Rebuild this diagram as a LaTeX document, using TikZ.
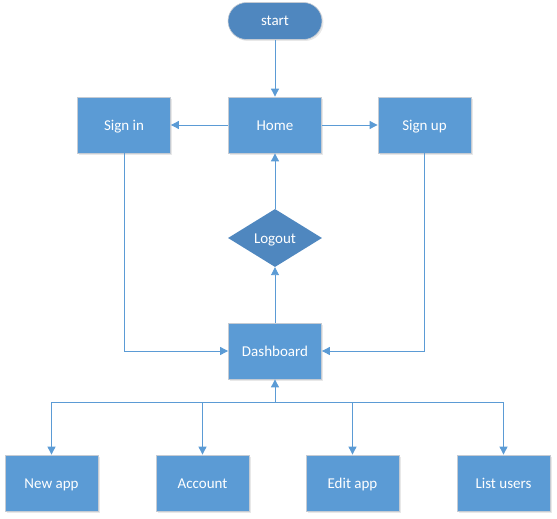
\documentclass[tikz,border=0pt]{standalone}
\usepackage{fontspec}
\setmainfont{Carlito}
\usetikzlibrary{arrows.meta,shapes.geometric,shadows}
\definecolor{boxblue}{HTML}{5B9BD5}
\definecolor{darkblue}{HTML}{4F87BF}
\definecolor{edgegray}{HTML}{C5CBD3}
\begin{document}
\begin{tikzpicture}[x=1pt,y=-1pt,
  every node/.style={font=\fontsize{15}{17}\selectfont, text=white, text height=13pt, text depth=3pt},
  proc/.style={rectangle, fill=boxblue, draw=edgegray, line width=0.8pt,
    minimum width=93pt, minimum height=56pt, inner sep=0pt,
    drop shadow={opacity=0.18, shadow xshift=1.5pt, shadow yshift=-1.5pt}},
  term/.style={rectangle, rounded corners=18.5pt, fill=darkblue, draw=edgegray, line width=0.6pt,
    minimum width=94pt, minimum height=37pt, inner sep=0pt,
    drop shadow={opacity=0.18, shadow xshift=1.5pt, shadow yshift=-1.5pt}},
  dec/.style={diamond, fill=darkblue, minimum width=94pt, minimum height=56pt, inner sep=0pt},
  conn/.style={draw=boxblue, line width=0.9pt},
  arr/.style={conn, -{Triangle[length=8pt,width=8pt]}}
]
\useasboundingbox (0,0) rectangle (557,519);
\node[term] (start) at (275,21) {start};
\node[proc] (home) at (275,125) {Home};
\node[proc] (signin) at (124,125) {Sign in};
\node[proc] (signup) at (424.5,125) {Sign up};
\node[dec] (logout) at (275,238) {Logout};
\node[proc] (dash) at (275,351) {Dashboard};
\node[proc] (newapp) at (51.5,483) {New app};
\node[proc] (account) at (202.5,483) {Account};
\node[proc] (editapp) at (352.5,483) {Edit app};
\node[proc] (listusers) at (503.5,483) {List users};
\coordinate (bus) at (275,402);

\draw[arr] (start) -- (home);
\draw[arr] (home) -- (signin);
\draw[arr] (home) -- (signup);
\draw[arr] (logout) -- (home);
\draw[arr] (dash) -- (logout);
\draw[arr] (signin.south) |- (dash.west);
\draw[arr] (signup.south) |- (dash.east);
\draw[arr] (bus) -- (dash.south);
\draw[conn] (newapp.north |- bus) -- (listusers.north |- bus);
\foreach \n in {newapp,account,editapp,listusers}
  \draw[arr] (\n.north |- bus) -- (\n.north);
\end{tikzpicture}
\end{document}
